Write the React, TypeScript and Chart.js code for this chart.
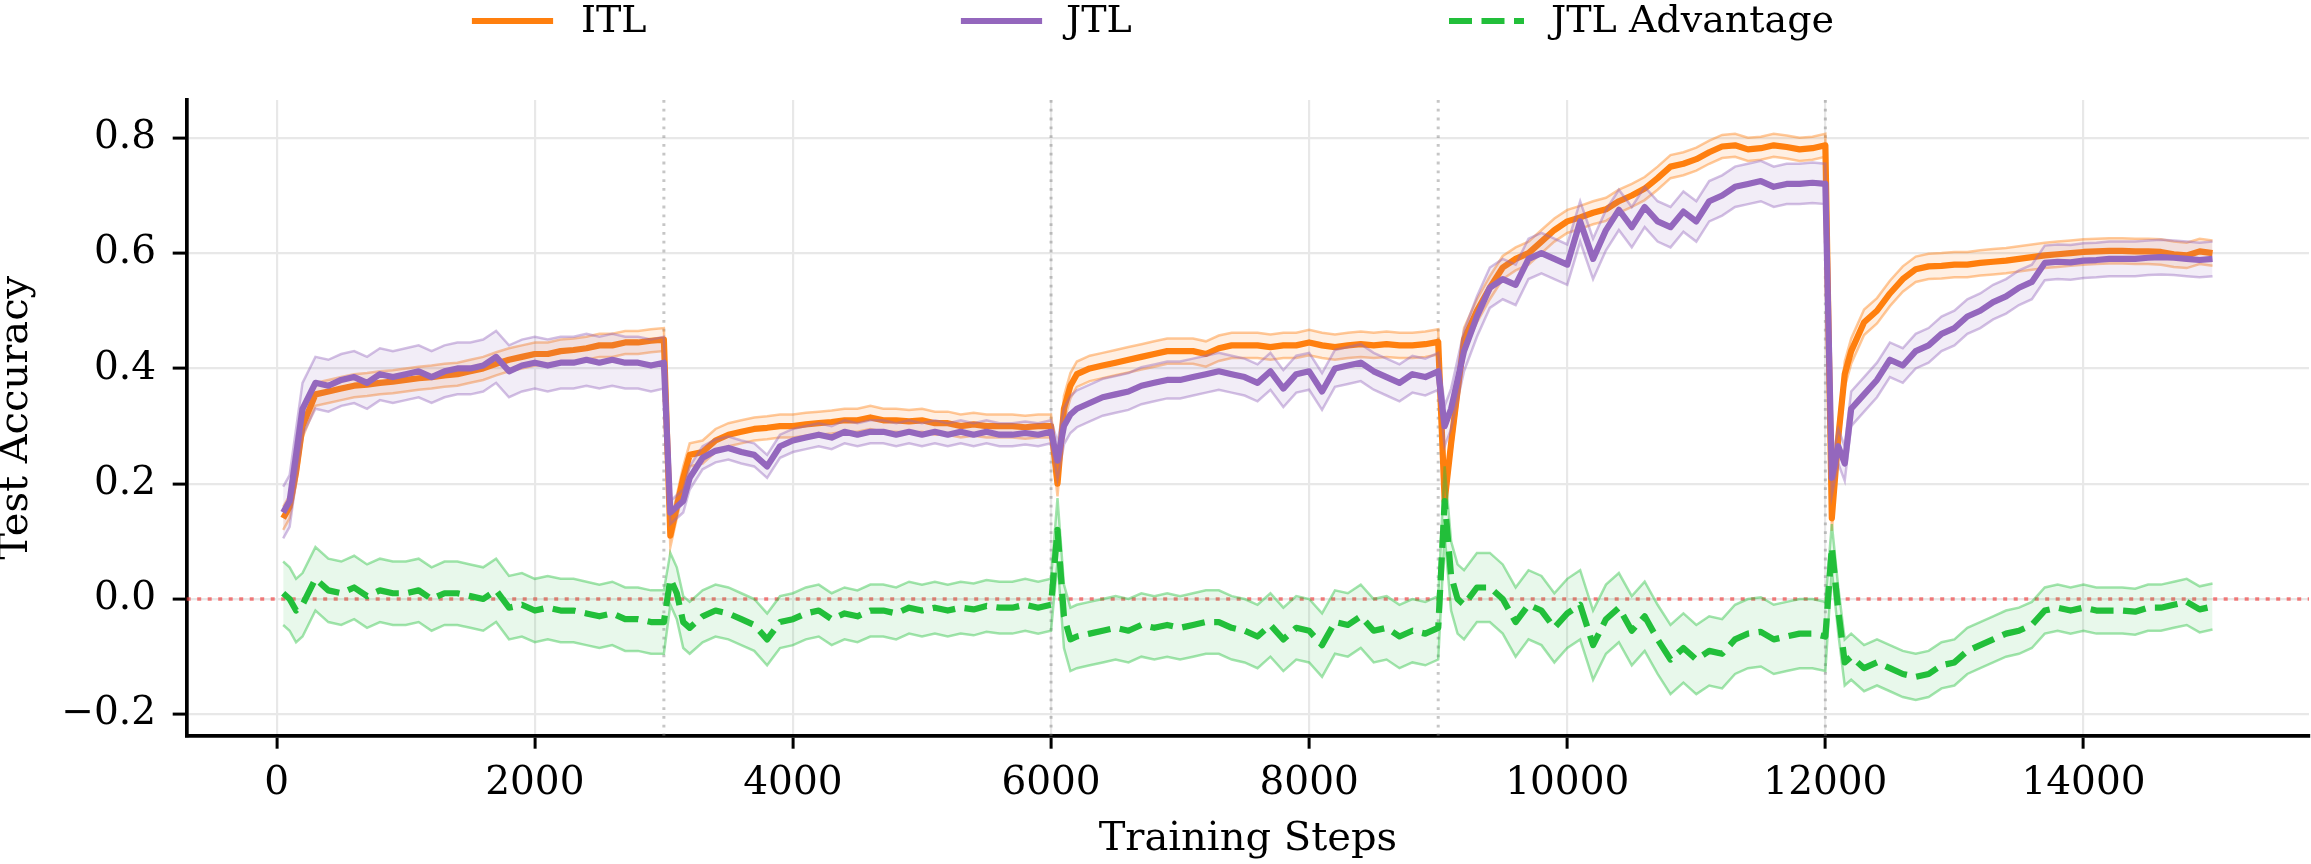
import { useEffect, useRef } from "react";
import { Chart, registerables } from "chart.js";

Chart.register(...registerables);

// Training schedule: five tasks of 3000 steps each, evaluated at these offsets.
const TASK_STARTS = [0, 3000, 6000, 9000, 12000];
const STEP_OFFSETS = [
  50, 100, 150, 200, 300, 400, 500, 600, 700, 800, 900, 1000, 1100, 1200, 1300, 1400,
  1500, 1600, 1700, 1800, 1900, 2000, 2100, 2200, 2300, 2400, 2500, 2600, 2700, 2800, 2900, 3000,
];
const TASK_BOUNDARIES = [3000, 6000, 9000, 12000];

const X_TICKS = [0, 2000, 4000, 6000, 8000, 10000, 12000, 14000];
const Y_TICKS = [-0.2, 0, 0.2, 0.4, 0.6, 0.8];
const X_LIMITS = [-697.5, 15747.5];
const Y_LIMITS = [-0.2371, 0.8656];

// Mean test accuracy of ITL, one row per task.
const ITL_MEAN = [
  0.14, 0.16, 0.22, 0.30, 0.355, 0.36, 0.365, 0.37, 0.372, 0.375, 0.377, 0.38, 0.383, 0.385, 0.388, 0.39,
  0.395, 0.40, 0.408, 0.415, 0.42, 0.425, 0.425, 0.43, 0.432, 0.435, 0.44, 0.44, 0.445, 0.445, 0.448, 0.45,

  0.11, 0.16, 0.21, 0.25, 0.255, 0.275, 0.285, 0.29, 0.295, 0.297, 0.30, 0.30, 0.303, 0.305, 0.307, 0.31,
  0.31, 0.315, 0.31, 0.31, 0.308, 0.31, 0.305, 0.305, 0.30, 0.303, 0.30, 0.30, 0.30, 0.298, 0.30, 0.30,

  0.20, 0.33, 0.37, 0.39, 0.40, 0.405, 0.41, 0.415, 0.42, 0.425, 0.43, 0.43, 0.43, 0.425, 0.435, 0.44,
  0.44, 0.44, 0.437, 0.44, 0.44, 0.445, 0.44, 0.437, 0.44, 0.442, 0.44, 0.442, 0.44, 0.44, 0.442, 0.446,

  0.17, 0.27, 0.36, 0.45, 0.50, 0.54, 0.575, 0.59, 0.60, 0.62, 0.64, 0.655, 0.662, 0.67, 0.676, 0.69,
  0.70, 0.712, 0.73, 0.75, 0.755, 0.763, 0.775, 0.785, 0.787, 0.78, 0.782, 0.787, 0.784, 0.78, 0.782, 0.787,

  0.14, 0.28, 0.39, 0.43, 0.48, 0.50, 0.53, 0.555, 0.572, 0.577, 0.578, 0.58, 0.58, 0.583, 0.585, 0.587,
  0.59, 0.593, 0.596, 0.598, 0.60, 0.602, 0.603, 0.604, 0.604, 0.603, 0.603, 0.602, 0.598, 0.596, 0.603, 0.60,
];

// Mean test accuracy of JTL.
const JTL_MEAN = [
  0.15, 0.17, 0.25, 0.33, 0.375, 0.37, 0.38, 0.385, 0.375, 0.39, 0.385, 0.39, 0.395, 0.385, 0.395, 0.40,
  0.40, 0.405, 0.42, 0.395, 0.405, 0.41, 0.405, 0.41, 0.41, 0.415, 0.41, 0.415, 0.41, 0.41, 0.405, 0.41,

  0.15, 0.16, 0.17, 0.21, 0.245, 0.257, 0.262, 0.255, 0.25, 0.23, 0.265, 0.275, 0.28, 0.285, 0.28, 0.29,
  0.285, 0.29, 0.29, 0.285, 0.29, 0.285, 0.29, 0.285, 0.29, 0.285, 0.29, 0.285, 0.285, 0.288, 0.285, 0.29,

  0.24, 0.30, 0.32, 0.33, 0.34, 0.35, 0.355, 0.36, 0.37, 0.375, 0.38, 0.38, 0.385, 0.39, 0.395, 0.39,
  0.385, 0.375, 0.395, 0.365, 0.39, 0.395, 0.36, 0.40, 0.405, 0.41, 0.395, 0.385, 0.375, 0.39, 0.385, 0.395,

  0.30, 0.33, 0.38, 0.43, 0.49, 0.54, 0.555, 0.545, 0.59, 0.60, 0.59, 0.58, 0.655, 0.59, 0.64, 0.675,
  0.645, 0.68, 0.655, 0.645, 0.672, 0.655, 0.69, 0.70, 0.715, 0.72, 0.725, 0.715, 0.72, 0.72, 0.722, 0.72,

  0.21, 0.265, 0.235, 0.33, 0.355, 0.38, 0.415, 0.405, 0.43, 0.44, 0.46, 0.47, 0.49, 0.50, 0.515, 0.525,
  0.54, 0.55, 0.583, 0.585, 0.584, 0.587, 0.588, 0.59, 0.59, 0.59, 0.592, 0.593, 0.592, 0.59, 0.588, 0.59,
];

// Mean advantage of JTL over ITL.
const ADV_MEAN = [
  0.01, 0.0, -0.02, -0.01, 0.035, 0.015, 0.01, 0.02, 0.005, 0.015, 0.01, 0.01, 0.015, 0.0, 0.01, 0.01,
  0.005, 0.0, 0.015, -0.015, -0.01, -0.02, -0.015, -0.02, -0.02, -0.025, -0.03, -0.025, -0.035, -0.035, -0.04, -0.04,

  0.035, 0.01, -0.04, -0.05, -0.03, -0.02, -0.025, -0.035, -0.045, -0.07, -0.04, -0.035, -0.025, -0.02, -0.035, -0.025,
  -0.03, -0.02, -0.02, -0.025, -0.015, -0.02, -0.015, -0.02, -0.015, -0.018, -0.012, -0.015, -0.015, -0.01, -0.015, -0.01,

  0.12, -0.03, -0.07, -0.065, -0.06, -0.055, -0.05, -0.055, -0.045, -0.05, -0.045, -0.05, -0.045, -0.04, -0.04, -0.05,
  -0.055, -0.065, -0.045, -0.07, -0.05, -0.055, -0.08, -0.04, -0.045, -0.03, -0.055, -0.05, -0.065, -0.055, -0.06, -0.05,

  0.17, 0.04, 0.0, -0.01, 0.02, 0.02, 0.0, -0.04, -0.01, -0.02, -0.05, -0.025, -0.01, -0.08, -0.035, -0.015,
  -0.055, -0.03, -0.07, -0.105, -0.085, -0.105, -0.09, -0.095, -0.07, -0.06, -0.057, -0.07, -0.065, -0.06, -0.06, -0.065,

  0.09, -0.02, -0.11, -0.10, -0.12, -0.11, -0.12, -0.13, -0.135, -0.13, -0.115, -0.11, -0.09, -0.08, -0.07, -0.06,
  -0.055, -0.045, -0.02, -0.015, -0.02, -0.015, -0.02, -0.02, -0.02, -0.022, -0.015, -0.015, -0.01, -0.005, -0.018, -0.013,
];

// Spread (one standard deviation) per task.
const ITL_STD = [0.02, 0.02, 0.022, 0.02, 0.022];
const JTL_STD = [0.045, 0.02, 0.032, 0.035, 0.03];
const ADV_STD = [0.055, 0.045, 0.055, 0.06, 0.04];

const ITL_COLOR = "#ff7f0e";
const JTL_COLOR = "#9467bd";
const ADV_COLOR = "#22bf3a";
const FONT = '"DejaVu Serif", serif';
const ADV_DASH = [23, 9.5];

const STEPS = TASK_STARTS.flatMap((s) => STEP_OFFSETS.map((o) => s + o));
const taskIndex = (i: number) => Math.floor(i / STEP_OFFSETS.length);

function rgba(hex: string, a: number) {
  const n = parseInt(hex.slice(1), 16);
  return `rgba(${(n >> 16) & 255},${(n >> 8) & 255},${n & 255},${a})`;
}

function meanPoints(mean: number[]) {
  return STEPS.map((x, i) => ({ x, y: mean[i] }));
}

function edgePoints(mean: number[], std: number[], sign: number) {
  return STEPS.map((x, i) => ({ x, y: mean[i] + sign * std[taskIndex(i)] }));
}

function bandAndLine(label: string, color: string, mean: number[], std: number[], order: number, fillAlpha: number, dash: number[] = []) {
  const edge = {
    borderColor: rgba(color, 0.42),
    borderWidth: 2.5,
    pointRadius: 0,
    tension: 0,
    order: order + 1,
  };
  return [
    { ...edge, label: label + " low", data: edgePoints(mean, std, -1), fill: false },
    { ...edge, label: label + " high", data: edgePoints(mean, std, 1), fill: "-1", backgroundColor: rgba(color, fillAlpha) },
    {
      label,
      data: meanPoints(mean),
      borderColor: color,
      borderWidth: 6.2,
      borderDash: dash,
      borderJoinStyle: "round",
      pointRadius: 0,
      tension: 0,
      fill: false,
      order,
    },
  ];
}

const LEGEND_ITEMS = [
  { label: "ITL", color: ITL_COLOR, dash: [] as number[], x: 475, tx: 581 },
  { label: "JTL", color: JTL_COLOR, dash: [] as number[], x: 964, tx: 1066 },
  { label: "JTL Advantage", color: ADV_COLOR, dash: ADV_DASH, x: 1449, tx: 1551 },
];

const guidesPlugin = {
  id: "guides",
  beforeDatasetsDraw(chart: any) {
    const { ctx, chartArea: a, scales } = chart;
    ctx.save();
    ctx.lineWidth = 3;
    ctx.strokeStyle = "rgba(128,128,128,0.45)";
    ctx.setLineDash([2.8, 6]);
    for (const b of TASK_BOUNDARIES) {
      const px = scales.x.getPixelForValue(b);
      ctx.beginPath();
      ctx.moveTo(px, a.top);
      ctx.lineTo(px, a.bottom);
      ctx.stroke();
    }
    ctx.strokeStyle = "rgba(240,60,60,0.65)";
    ctx.lineWidth = 3.3;
    ctx.setLineDash([4, 6.5]);
    const py = scales.y.getPixelForValue(0);
    ctx.beginPath();
    ctx.moveTo(a.left, py);
    ctx.lineTo(a.right, py);
    ctx.stroke();
    ctx.restore();
  },
};

const legendPlugin = {
  id: "topLegend",
  afterDraw(chart: any) {
    const { ctx } = chart;
    ctx.save();
    const handle = 75;
    const ly = 21;
    for (const it of LEGEND_ITEMS) {
      ctx.strokeStyle = it.color;
      ctx.lineWidth = 6.2;
      ctx.setLineDash(it.dash);
      ctx.lineCap = it.dash.length ? "butt" : "square";
      ctx.beginPath();
      ctx.moveTo(it.x, ly);
      ctx.lineTo(it.x + handle, ly);
      ctx.stroke();
      ctx.setLineDash([]);
      ctx.fillStyle = "#000";
      ctx.font = `38px ${FONT}`;
      ctx.textBaseline = "middle";
      ctx.textAlign = "left";
      ctx.fillText(it.label, it.tx, 22.5);
    }
    ctx.restore();
  },
};

function fmtY(v: number) {
  const s = Math.abs(v).toFixed(1);
  return v < -1e-9 ? "\u2212" + s : s;
}

export default function App() {
  const canvasRef = useRef<HTMLCanvasElement | null>(null);

  useEffect(() => {
    const canvas = canvasRef.current;
    if (!canvas) return;

    const datasets = [
      ...bandAndLine("ITL", ITL_COLOR, ITL_MEAN, ITL_STD, 5, 0.12),
      ...bandAndLine("JTL", JTL_COLOR, JTL_MEAN, JTL_STD, 3, 0.12),
      ...bandAndLine("JTL Advantage", ADV_COLOR, ADV_MEAN, ADV_STD, 1, 0.1, ADV_DASH),
    ];

    const tickFont = { family: FONT, size: 39 };

    const chart = new Chart(canvas, {
      type: "line",
      data: { datasets: datasets as any },
      plugins: [guidesPlugin, legendPlugin],
      options: {
        animation: false,
        responsive: false,
        devicePixelRatio: 1,
        layout: { padding: { top: 100, right: 2, left: 0, bottom: 0 } },
        plugins: { legend: { display: false }, tooltip: { enabled: false } },
        scales: {
          x: {
            type: "linear",
            min: X_LIMITS[0],
            max: X_LIMITS[1],
            afterBuildTicks: (s: any) => {
              s.ticks = X_TICKS.map((value) => ({ value }));
            },
            afterFit: (s: any) => {
              s.height = 128.3;
            },
            grid: { color: "#e8e8e8", lineWidth: 2.2, tickColor: "#000", tickWidth: 3, tickLength: 13 },
            border: { display: true, color: "#000", width: 3.7 },
            ticks: {
              color: "#000",
              font: tickFont,
              padding: 12,
              autoSkip: false,
              maxRotation: 0,
              minRotation: 0,
              callback: (v: any) => String(v),
            },
            title: {
              display: true,
              text: "Training Steps",
              color: "#000",
              font: { family: FONT, size: 40, lineHeight: 1 },
              padding: { top: 0, bottom: 4.5 },
            },
          },
          y: {
            type: "linear",
            min: Y_LIMITS[0],
            max: Y_LIMITS[1],
            afterBuildTicks: (s: any) => {
              s.ticks = Y_TICKS.map((value) => ({ value }));
            },
            afterFit: (s: any) => {
              s.width = 186.7;
            },
            grid: { color: "#e8e8e8", lineWidth: 2.2, tickColor: "#000", tickWidth: 3, tickLength: 14 },
            border: { display: true, color: "#000", width: 3.7 },
            ticks: {
              color: "#000",
              font: tickFont,
              padding: 16.7,
              callback: (v: any) => fmtY(Number(v)),
            },
            title: {
              display: true,
              text: "Test Accuracy",
              color: "#000",
              font: { family: FONT, size: 40, lineHeight: 0.85 },
              padding: { top: 0, bottom: 0 },
            },
          },
        },
      } as any,
    });

    return () => chart.destroy();
  }, []);

  return (
    <div style={{ position: "absolute", left: 0, top: 0, width: 2311, height: 864, background: "#fff" }}>
      <canvas ref={canvasRef} width={2311} height={864} style={{ display: "block", width: 2311, height: 864 }} />
    </div>
  );
}
